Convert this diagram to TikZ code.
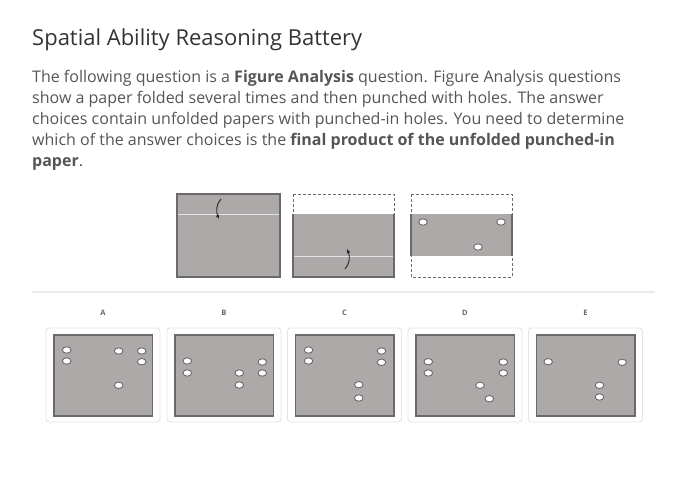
\documentclass[tikz,border=0pt]{standalone}
\usepackage{fontspec}
\setmainfont{Open Sans}
\usetikzlibrary{arrows.meta}
\definecolor{titlec}{HTML}{333333}
\definecolor{textc}{HTML}{555555}
\definecolor{paper}{HTML}{ADA9A8}
\definecolor{edge}{HTML}{6A6A6A}
\definecolor{foldc}{HTML}{E2E2E2}
\definecolor{cardc}{HTML}{E4E4E4}
\definecolor{sepc}{HTML}{EBEBEB}
\definecolor{labc}{HTML}{666666}
\tikzset{
  txt/.style={anchor=base west, inner sep=0pt, text=textc, font=\fontsize{16}{18}\selectfont},
  sheet/.style={draw=edge, fill=paper, line width=1.1pt},
  dashsheet/.style={draw=edge, densely dashed, line width=0.8pt},
  foldline/.style={draw=foldc, line width=0.9pt},
  hole/.style={draw=edge, fill=white, line width=0.9pt},
  card/.style={draw=cardc, line width=0.9pt, rounded corners=3pt},
  lab/.style={text=labc, font=\bfseries\fontsize{7.5}{8}\selectfont, inner sep=0pt},
  foldarrow/.style={draw=black!85, line width=0.9pt, -{Latex[length=4pt,width=4pt]}}
}
\begin{document}
\begin{tikzpicture}[x=1pt,y=-1pt]
\useasboundingbox (0,0) rectangle (696,477);
% title
\node[anchor=base west, inner sep=0pt, text=titlec, font=\fontsize{22}{26}\selectfont] (title) at (32,45.5) {Spatial Ability Reasoning Battery};
% paragraph
\node[txt] (l1) at (32,82.5) {The following question is a \textbf{Figure Analysis} question. Figure Analysis questions};
\node[txt] (l2) at (32,103.5) {show a paper folded several times and then punched with holes. The answer};
\node[txt] (l3) at (32,124.5) {choices contain unfolded papers with punched-in holes. You need to determine};
\node[txt] (l4) at (32,145.5) {which of the answer choices is the \textbf{final product of the unfolded punched-in}};
\node[txt] (l5) at (32,166.5) {\textbf{paper}.};
% step 1
\path[sheet] (177,194) rectangle (280,277);
\draw[foldline] (178,214) -- (279,214);
\coordinate (a1s) at (221,199);
\coordinate (a1e) at (219,219);
\draw[foldarrow] (a1s) .. controls (216,204) and (216,212) .. (a1e);
% step 2
\draw[dashsheet] (293,194) rectangle (394,277);
\fill[paper] (293,214) rectangle (394,277);
\draw[edge, line width=1.1pt] (293,214) -- (293,277) -- (394,277) -- (394,214);
\draw[foldline] (294,256) -- (393,256);
\coordinate (a2s) at (345,269);
\coordinate (a2e) at (347,249);
\draw[foldarrow] (a2s) .. controls (350,264) and (350,256) .. (a2e);
% step 3
\draw[dashsheet] (411,194) rectangle (512,277);
\fill[paper] (411,214) rectangle (512,256);
\draw[edge, line width=1.1pt] (411,214) -- (411,256);
\draw[edge, line width=1.1pt] (512,214) -- (512,256);
\draw[hole] (423,222) ellipse (4.3 and 3.2);
\draw[hole] (501,222) ellipse (4.3 and 3.2);
\draw[hole] (478,247) ellipse (4.3 and 3.2);
% separator
\draw[sepc, line width=1.2pt] (32,292) -- (655,292);
% answer cards
\foreach \L/\cx/\holes in {
  A/46/{12.7/15,12.7/26,64.7/16,87.7/16,87.7/26.7,64.7/50.3},
  B/167/{12.3/26,12.3/38,64.3/38,64.3/50,87.3/27,87.3/38},
  C/287.5/{13/15,13/26,86/16,86/27.3,63.3/49.7,63.3/63},
  D/408/{12.3/26.7,12.3/38,87.3/27,87.3/38,64/50.3,73.3/63.7},
  E/528.5/{11.7/26.7,85.7/27.3,63/50.3,63/62}} {
  \node[lab] (lab\L) at ({\cx+57},313) {\L};
  \draw[card] (\cx,328) rectangle ({\cx+114},422);
  \path[sheet] ({\cx+8},335) rectangle ({\cx+106.5},416);
  \foreach \hx/\hy in \holes {
    \draw[hole] ({\cx+8+\hx},{335+\hy}) ellipse (4.3 and 3.2);
  }
}
\end{tikzpicture}
\end{document}
